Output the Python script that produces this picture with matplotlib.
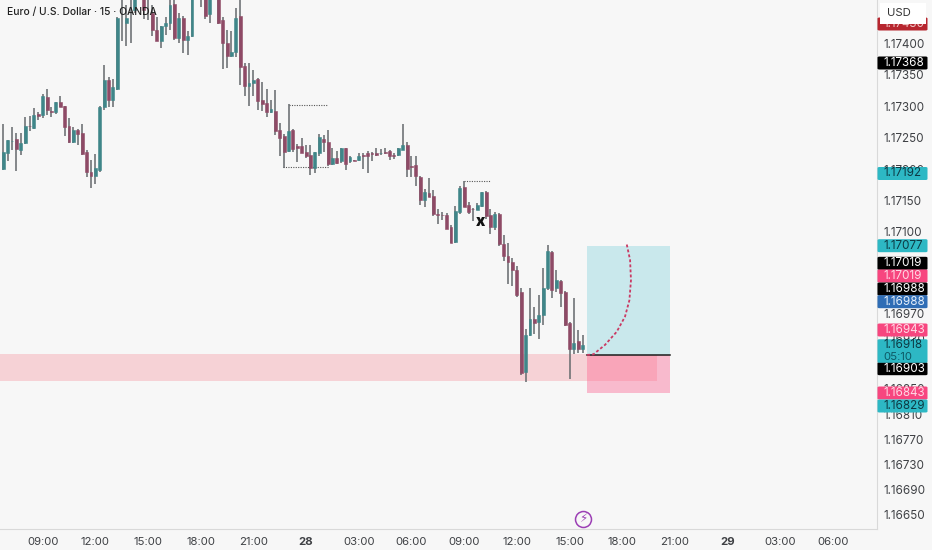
import numpy as np
import matplotlib
matplotlib.use('Agg')
import matplotlib.pyplot as plt
from matplotlib.patches import Rectangle, FancyBboxPatch

plt.rcParams['font.family'] = ['Inter', 'DejaVu Sans']

W, H = 932, 550

# 15 minute candles
opens = [1.17200,1.17226,1.17245,1.17247,1.17230,1.17241,1.17269,1.17265,1.17288,1.17286,1.17315,1.17293,1.17291,1.17306,1.17300,1.17268,1.17243,1.17262,1.17257,1.17227,1.17195,1.17189,1.17198,1.17298,1.17341,1.17310,1.17327,1.17475,1.17433,1.17490,1.17453,1.17490,1.17480,1.17480,1.17448,1.17422,1.17404,1.17427,1.17433,1.17462,1.17409,1.17440,1.17405,1.17412,1.17490,1.17480,1.17475,1.17446,1.17485,1.17480,1.17437,1.17400,1.17380,1.17387,1.17444,1.17364,1.17332,1.17337,1.17344,1.17310,1.17305,1.17290,1.17293,1.17262,1.17252,1.17228,1.17262,1.17237,1.17236,1.17227,1.17222,1.17202,1.17226,1.17248,1.17243,1.17208,1.17217,1.17212,1.17233,1.17212,1.17215,1.17214,1.17222,1.17225,1.17225,1.17226,1.17225,1.17227,1.17228,1.17223,1.17222,1.17231,1.17238,1.17205,1.17207,1.17188,1.17151,1.17162,1.17157,1.17128,1.17127,1.17127,1.17108,1.17084,1.17131,1.17171,1.17142,1.17137,1.17135,1.17141,1.17164,1.17127,1.17107,1.17129,1.17081,1.17061,1.17052,1.17039,1.17004,1.16877,1.16936,1.16962,1.16957,1.16967,1.17010,1.17068,1.17010,1.17022,1.17004,1.16955,1.16914,1.16926,1.16913]
highs = [1.17271,1.17246,1.17267,1.17257,1.17258,1.17283,1.17284,1.17297,1.17291,1.17319,1.17327,1.17298,1.17307,1.17316,1.17301,1.17281,1.17267,1.17263,1.17271,1.17231,1.17214,1.17224,1.17300,1.17366,1.17346,1.17343,1.17442,1.17496,1.17461,1.17495,1.17495,1.17505,1.17490,1.17485,1.17461,1.17442,1.17428,1.17442,1.17470,1.17470,1.17448,1.17444,1.17419,1.17495,1.17505,1.17495,1.17485,1.17485,1.17500,1.17490,1.17442,1.17421,1.17419,1.17456,1.17470,1.17369,1.17368,1.17358,1.17345,1.17339,1.17327,1.17310,1.17325,1.17274,1.17255,1.17303,1.17263,1.17240,1.17250,1.17238,1.17238,1.17227,1.17255,1.17254,1.17262,1.17233,1.17228,1.17234,1.17233,1.17221,1.17215,1.17226,1.17225,1.17229,1.17227,1.17233,1.17232,1.17233,1.17231,1.17226,1.17233,1.17272,1.17243,1.17221,1.17221,1.17189,1.17168,1.17185,1.17166,1.17136,1.17132,1.17130,1.17111,1.17141,1.17173,1.17181,1.17147,1.17138,1.17146,1.17164,1.17165,1.17136,1.17131,1.17130,1.17095,1.17083,1.17058,1.17045,1.17010,1.16945,1.17010,1.16981,1.17000,1.17043,1.17079,1.17070,1.17040,1.17023,1.17006,1.16957,1.16994,1.16943,1.16936]
lows = [1.17199,1.17212,1.17230,1.17197,1.17222,1.17240,1.17261,1.17264,1.17278,1.17281,1.17286,1.17283,1.17288,1.17298,1.17252,1.17242,1.17241,1.17238,1.17223,1.17188,1.17169,1.17176,1.17196,1.17294,1.17299,1.17299,1.17326,1.17404,1.17395,1.17400,1.17448,1.17478,1.17438,1.17437,1.17411,1.17403,1.17392,1.17413,1.17421,1.17406,1.17400,1.17385,1.17381,1.17410,1.17472,1.17458,1.17439,1.17433,1.17470,1.17431,1.17359,1.17360,1.17378,1.17378,1.17334,1.17316,1.17301,1.17316,1.17294,1.17293,1.17283,1.17289,1.17254,1.17221,1.17202,1.17227,1.17227,1.17211,1.17225,1.17217,1.17191,1.17193,1.17220,1.17227,1.17204,1.17206,1.17208,1.17210,1.17199,1.17210,1.17213,1.17213,1.17200,1.17193,1.17213,1.17220,1.17222,1.17224,1.17215,1.17216,1.17221,1.17230,1.17188,1.17188,1.17173,1.17143,1.17140,1.17155,1.17125,1.17113,1.17119,1.17104,1.17082,1.17082,1.17128,1.17139,1.17128,1.17118,1.17134,1.17140,1.17121,1.17096,1.17103,1.17078,1.17054,1.17017,1.17013,1.16996,1.16872,1.16861,1.16934,1.16937,1.16930,1.16951,1.17007,1.16995,1.17005,1.16981,1.16950,1.16866,1.16906,1.16907,1.16907]
closes = [1.17227,1.17246,1.17245,1.17232,1.17241,1.17268,1.17268,1.17286,1.17285,1.17316,1.17294,1.17291,1.17306,1.17299,1.17267,1.17243,1.17262,1.17256,1.17224,1.17195,1.17189,1.17201,1.17299,1.17341,1.17310,1.17330,1.17440,1.17485,1.17441,1.17475,1.17485,1.17500,1.17453,1.17475,1.17421,1.17404,1.17427,1.17433,1.17461,1.17408,1.17440,1.17405,1.17412,1.17485,1.17480,1.17472,1.17444,1.17474,1.17490,1.17433,1.17400,1.17380,1.17387,1.17441,1.17362,1.17332,1.17337,1.17342,1.17309,1.17303,1.17290,1.17295,1.17260,1.17250,1.17227,1.17260,1.17232,1.17233,1.17225,1.17220,1.17202,1.17227,1.17251,1.17243,1.17208,1.17217,1.17210,1.17233,1.17208,1.17219,1.17213,1.17220,1.17220,1.17220,1.17224,1.17223,1.17226,1.17225,1.17221,1.17221,1.17233,1.17239,1.17200,1.17203,1.17189,1.17150,1.17163,1.17156,1.17128,1.17126,1.17126,1.17105,1.17083,1.17133,1.17169,1.17140,1.17132,1.17136,1.17142,1.17163,1.17125,1.17107,1.17129,1.17081,1.17062,1.17052,1.17040,1.17000,1.16876,1.16936,1.16962,1.16955,1.16967,1.17010,1.17069,1.17008,1.17024,1.17003,1.16952,1.16914,1.16923,1.16914,1.16920]

# hours since 27th 00:00
first_bar = 6.75
time_ticks = [9, 12, 15, 18, 21, 24, 27, 30, 33, 36, 39, 42, 45, 48, 51, 54]
time_labels = ['09:00', '12:00', '15:00', '18:00', '21:00', '28', '03:00', '06:00',
               '09:00', '12:00', '15:00', '18:00', '21:00', '29', '03:00', '06:00']
price_ticks = [1.17400, 1.17350, 1.17300, 1.17250, 1.17200, 1.17150, 1.17100, 1.16970,
               1.16930, 1.16850, 1.16810, 1.16770, 1.16730, 1.16690, 1.16650]

# long position box and zone
entry_time, box_end, zone_end = 40.0, 44.75, 44.0
entry_price, target_price, stop_price = 1.16904, 1.17077, 1.16843
zone_top, zone_bottom = 1.16905, 1.16863

# projected path
path_t = [40.0, 40.36, 41.02, 41.69, 42.16, 42.41, 42.50, 42.45, 42.26]
path_p = [1.16904, 1.16905, 1.16920, 1.16941, 1.16965, 1.16991, 1.17023, 1.17055, 1.17080]

# dotted levels: start, end, price
dotted_levels = [(23.0, 25.17, 1.17302), (22.7, 25.3, 1.17203), (33.0, 34.47, 1.17181)]

# scale badges: text, background, text colour, row centre in pixels
badge_text = ['1.17430', '1.17368', '1.17192', '1.17077', '1.17019', '1.17019', '1.16988',
              '1.16988', '1.16943', '1.16903', '1.16843', '1.16829']
badge_bg = ['#b7262f', '#000000', '#2db8c4', '#2db8c4', '#000000', '#f7467f', '#000000',
            '#2f6db5', '#f7467f', '#000000', '#f7467f', '#2db8c4']
badge_fg = ['#f0c8c8', '#ffffff', '#0d3a44', '#0d3a44', '#ffffff', '#ffd9e5', '#ffffff',
            '#e6f0fb', '#ffd9e5', '#ffffff', '#ffd9e5', '#0d3a44']
badge_row = [24, 63, 173.5, 245.7, 263.3, 276, 289, 301.7, 330, 368.7, 393, 406]

GREEN = '#3f8689'
RED = '#8e4a66'
WICK = '#6a6e71'
BG = '#f7f7f7'
LABEL = '#3f4145'

fig = plt.figure(figsize=(W / 100, H / 100), dpi=100, facecolor=BG)
ax = fig.add_axes([0, 21 / H, 877 / W, 529 / H], facecolor=BG)
ax.set_xlim(6.568, 6.568 + 877 / 17.56)
ax.set_ylim(1.16627, 1.17469)

opens = np.array(opens)
closes = np.array(closes)
times = first_bar + 0.25 * np.arange(len(opens))

# zone + position box
ax.add_patch(Rectangle((0, zone_bottom), zone_end, zone_top - zone_bottom, color='#f6d2d6', lw=0, zorder=1))
ax.add_patch(Rectangle((entry_time, entry_price), box_end - entry_time, target_price - entry_price,
                       color='#c9e8ec', lw=0, zorder=1.1))
ax.add_patch(Rectangle((entry_time, stop_price), box_end - entry_time, entry_price - stop_price,
                       color='#f8bacd', lw=0, zorder=1.1))
ax.add_patch(Rectangle((entry_time, zone_bottom), zone_end - entry_time, entry_price - zone_bottom,
                       color='#f9a5b9', lw=0, zorder=1.2))

# candles
ax.vlines(times, lows, highs, color=WICK, lw=1.15, zorder=3)
up = closes >= opens
ax.bar(times[up], (closes - opens)[up], bottom=opens[up], width=0.165, color=GREEN,
       edgecolor=GREEN, lw=0.4, zorder=3.5)
ax.bar(times[~up], (opens - closes)[~up], bottom=closes[~up], width=0.165, color=RED,
       edgecolor=RED, lw=0.4, zorder=3.5)

ax.plot([entry_time, box_end], [entry_price, entry_price], color='#1c1c1c', lw=1.1, zorder=4)
ax.plot(path_t, path_p, color='#c93a63', lw=1.3, ls=(0, (1.6, 1.2)), zorder=4)

for start, end, price in dotted_levels:
    ax.plot([start, end], [price, price], color='#555555', lw=0.8, ls=(0, (1, 1.2)), zorder=2.5)

ax.text(33.95, 1.17117, 'x', fontsize=11, fontweight='black', color='#111111', ha='center', va='center', zorder=5)

# session break icon
ax.plot([39.77], [1.16643], marker='o', ms=11.5, mfc='none', mec='#9c3fb5', mew=1.1, zorder=5)
ax.text(39.77, 1.16643, '\u26a1', fontsize=8.5, color='#9c3fb5', ha='center', va='center',
        family='DejaVu Sans', zorder=5)

# axes
for side in ['top', 'left']:
    ax.spines[side].set_visible(False)
ax.spines['right'].set_color('#d9d9d9')
ax.spines['bottom'].set_color('#d9d9d9')
ax.yaxis.tick_right()
ax.set_yticks(price_ticks)
ax.set_yticklabels([f'{p:.5f}' for p in price_ticks], fontsize=8.4, color=LABEL)
ax.set_xticks(time_ticks)
ax.set_xticklabels(time_labels, fontsize=8.2, color=LABEL)
for tick in ax.get_xticklabels():
    if tick.get_text() in ('28', '29'):
        tick.set_fontweight('bold')
ax.tick_params(axis='both', length=0)
ax.tick_params(axis='y', pad=4.5)
ax.tick_params(axis='x', pad=6)

ax.text(7 / 877, 1 - 12 / 529, 'Euro / U.S. Dollar \u00b7 15 \u00b7 OANDA', transform=ax.transAxes,
        fontsize=7.4, fontweight='medium', color='#222222', va='center', zorder=6)


# right scale badges sit in figure pixels, they get stacked so they don't follow price exactly
def badge(cy, height, bg, zorder=8):
    fig.add_artist(FancyBboxPatch((877.5 / W, 1 - (cy + height / 2) / H), 50 / W, height / H,
                                  boxstyle='round,pad=0,rounding_size=0.002', transform=fig.transFigure,
                                  facecolor=bg, edgecolor='none', zorder=zorder))


for text, bg, fg, row in zip(badge_text, badge_bg, badge_fg, badge_row):
    badge(row, 13, bg)
    fig.text(883.5 / W, 1 - row / H, text, fontsize=8.4, color=fg, va='center', zorder=9)

badge(351, 23.5, '#2db8c4')
fig.text(883.5 / W, 1 - 345.5 / H, '1.16918', fontsize=8.4, color='#0d3a44', va='center', zorder=9)
fig.text(883.5 / W, 1 - 356.5 / H, '05:10', fontsize=8.2, color='#0d5a66', va='center', zorder=9)

# currency box
fig.add_artist(Rectangle((880 / W, 1 - 24 / H), 46 / W, 21 / H, transform=fig.transFigure,
                         facecolor='white', edgecolor='none', zorder=10))
fig.text(887 / W, 1 - 13.5 / H, 'USD', fontsize=8.2, color='#333333', va='center', zorder=11)

fig.savefig('out.png', dpi=100, facecolor=BG)
